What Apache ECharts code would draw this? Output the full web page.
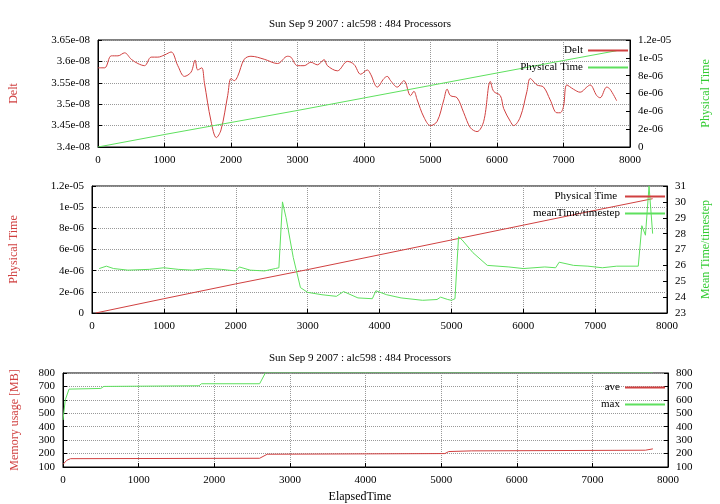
<!DOCTYPE html>
<html><head><meta charset="utf-8">
<script src="https://cdn.jsdelivr.net/npm/echarts@6/dist/echarts.min.js"></script>
<style>html,body{margin:0;padding:0;background:#fff}#c{width:720px;height:504px}</style>
</head><body><div id="c"></div>
<script>
var titleText = "Sun Sep 9 2007 : alc598 : 484 Processors";
var deltX = [0,100,200,300,400,500,600,700,800,900,1000,1100,1200,1300,1400,1460,1500,1560,1600,1700,1780,1850,1950,2000,2050,2100,2200,2300,2500,2700,2850,2900,3000,3100,3200,3300,3400,3450,3600,3750,3850,3950,4050,4100,4200,4300,4350,4400,4500,4600,4700,4750,4800,4900,5000,5100,5200,5250,5300,5400,5500,5600,5700,5800,5900,5950,6050,6100,6200,6250,6350,6450,6500,6600,6700,6800,6900,6950,7000,7050,7150,7250,7350,7400,7500,7550,7650,7700,7800];
// Delt values in units of 1e-08
var deltY = [3.585,3.585,3.613,3.613,3.62,3.605,3.595,3.59,3.61,3.61,3.615,3.622,3.59,3.565,3.575,3.603,3.58,3.585,3.55,3.46,3.422,3.44,3.52,3.56,3.555,3.565,3.605,3.612,3.605,3.595,3.612,3.61,3.59,3.59,3.598,3.592,3.604,3.59,3.578,3.6,3.593,3.57,3.58,3.57,3.54,3.56,3.565,3.555,3.54,3.555,3.52,3.53,3.51,3.47,3.45,3.46,3.51,3.535,3.52,3.515,3.48,3.445,3.436,3.46,3.553,3.53,3.52,3.49,3.46,3.45,3.47,3.53,3.56,3.545,3.54,3.51,3.48,3.48,3.495,3.545,3.535,3.528,3.54,3.545,3.52,3.515,3.54,3.535,3.508];
var physX1 = [0,1000,2000,3000,4000,5000,6000,7000,7800];
var physY1 = [0,1.4e-6,2.75e-6,4.1e-6,5.5e-6,6.9e-6,8.3e-6,9.7e-6,1.08e-5];
var physX2 = [50,1000,2000,3000,4000,5000,6000,7000,7800];
var physY2 = [0,1.35e-6,2.75e-6,4.1e-6,5.5e-6,6.9e-6,8.3e-6,9.7e-6,1.08e-5];
var meanX = [100,200,300,500,800,1000,1200,1400,1600,1800,2000,2050,2200,2400,2550,2600,2650,2700,2800,2900,3000,3200,3400,3500,3700,3900,3950,4100,4300,4600,4800,4850,4950,5000,5050,5100,5150,5300,5500,5800,6000,6300,6450,6500,6700,6900,7100,7300,7600,7650,7700,7750,7800];
var meanY = [25.8,25.95,25.8,25.7,25.75,25.85,25.75,25.7,25.8,25.75,25.65,25.9,25.7,25.65,25.8,25.85,30.0,29.0,26.5,24.6,24.3,24.15,24.05,24.35,23.95,23.9,24.4,24.15,23.95,23.8,23.85,24.0,23.85,23.8,23.9,27.8,27.6,26.8,26.0,25.9,25.8,25.9,25.85,26.2,26.0,25.95,25.85,25.95,25.95,28.5,27.9,31.0,28.0];
var maxX = [0,30,80,500,540,1800,1830,2600,2680,7800];
var maxY = [450,600,680,685,700,705,720,720,805,805];
var aveX = [0,50,100,2600,2700,5050,5100,5400,7700,7800];
var aveY = [120,150,162,165,195,200,215,220,225,235];

function z(xs, ys){ return xs.map(function(x,i){return [x, ys[i]];}); }
var RED = '#d04040', GREEN = '#5ee05e';
var FONT = 'Liberation Serif';
function expFmt(v){ if (Math.abs(v) < 1e-15) return '0'; var s = v.toExponential(2); var p = s.split('e'); var m = parseFloat(p[0]).toString(); var e = parseInt(p[1],10); var sign = e<0?'-':'+'; e=Math.abs(e); return m+'e'+sign+(e<10?'0':'')+e; }
function e8Fmt(v){ return parseFloat(v.toFixed(2)).toString() + 'e-08'; }
var lab = {fontFamily:FONT, fontSize:11, color:'#000'};
var split = {show:true, lineStyle:{type:'dotted', color:'#999'}};
function xAx(gi){ return {type:'value', gridIndex:gi, min:0, max:8000, interval:1000, axisLabel:{fontFamily:FONT, fontSize:11, color:'#000', formatter:function(v){return String(v);}}, axisTick:{inside:true, length:4, lineStyle:{color:'#000'}}, axisLine:{lineStyle:{color:'#000'}}, splitLine:split}; }
function yAx(gi, o){ var b = {type:'value', gridIndex:gi, axisLabel:lab, axisTick:{show:true, inside:true, length:4, lineStyle:{color:'#000'}}, axisLine:{show:true, lineStyle:{color:'#000'}}, splitLine:{show:false}, nameLocation:'middle', nameTextStyle:{fontFamily:FONT, fontSize:12}}; for (var k in o) b[k]=o[k]; return b; }
function ser(name, xi, yi, data, color, smooth){ return {name:name, type:'line', xAxisIndex:xi, yAxisIndex:yi, data:data, smooth:smooth||false, showSymbol:false, symbol:'none', lineStyle:{width:1, color:color}, itemStyle:{color:color}, animation:false}; }
function leg(names, right, top){ return {data:names, right:right, top:top, orient:'vertical', align:'right', itemWidth:40, itemHeight:2, itemGap:6, icon:'rect', textStyle:{fontFamily:FONT, fontSize:11, color:'#000'}, padding:0}; }

var chart = echarts.init(document.getElementById('c'));
chart.setOption({
  animation:false,
  title:[{text:titleText, left:'center', top:14, textStyle:{fontFamily:FONT, fontSize:11, fontWeight:'normal', color:'#000'}},
         {text:titleText, left:'center', top:348, textStyle:{fontFamily:FONT, fontSize:11, fontWeight:'normal', color:'#000'}},
         {text:'ElapsedTime', left:'center', top:486, textStyle:{fontFamily:FONT, fontSize:12, fontWeight:'normal', color:'#000'}}],
  grid:[{left:98, right:90, top:40, height:107, show:true, borderColor:'#000', borderWidth:1},
        {left:91, right:53, top:186, height:127, show:true, borderColor:'#000', borderWidth:1},
        {left:63, right:52, top:373, height:94, show:true, borderColor:'#000', borderWidth:1}],
  legend:[leg(['Delt','Physical Time'], 92, 45), leg(['Physical Time ','meanTime/timestep'], 55, 191), leg(['ave','max'], 55, 382)],
  xAxis:[xAx(0), xAx(1), xAx(2)],
  yAxis:[
    yAx(0,{min:3.4, max:3.65, interval:0.05, splitLine:split, name:'Delt', nameGap:78, nameTextStyle:{fontFamily:FONT, fontSize:12, color:RED}, axisLabel:{fontFamily:FONT, fontSize:11, color:'#000', formatter:e8Fmt}}),
    yAx(0,{position:'right', min:0, max:1.2e-5, interval:2e-6, name:'Physical Time', nameGap:70, nameTextStyle:{fontFamily:FONT, fontSize:12, color:'#3c3'}, axisLabel:{fontFamily:FONT, fontSize:11, color:'#000', formatter:function(v){return expFmt(v);}}}),
    yAx(1,{min:0, max:1.2e-5, interval:2e-6, splitLine:split, name:'Physical Time', nameGap:72, nameTextStyle:{fontFamily:FONT, fontSize:12, color:RED}, axisLabel:{fontFamily:FONT, fontSize:11, color:'#000', formatter:function(v){return expFmt(v);}}}),
    yAx(1,{position:'right', min:23, max:31, interval:1, name:'Mean Time/timestep', nameGap:33, nameTextStyle:{fontFamily:FONT, fontSize:12, color:'#3c3'}}),
    yAx(2,{min:100, max:800, interval:100, splitLine:split, name:'Memory usage [MB]', nameGap:42, nameTextStyle:{fontFamily:FONT, fontSize:12, color:RED}}),
    yAx(2,{position:'right', min:100, max:800, interval:100})
  ],
  series:[
    ser('Delt',0,0,z(deltX,deltY),RED,0.35),
    ser('Physical Time',0,1,z(physX1,physY1),GREEN),
    ser('Physical Time ',1,2,z(physX2,physY2),RED),
    ser('meanTime/timestep',1,3,z(meanX,meanY),GREEN),
    ser('ave',2,4,z(aveX,aveY),RED),
    ser('max',2,4,z(maxX,maxY),GREEN)
  ]
});
</script></body></html>
